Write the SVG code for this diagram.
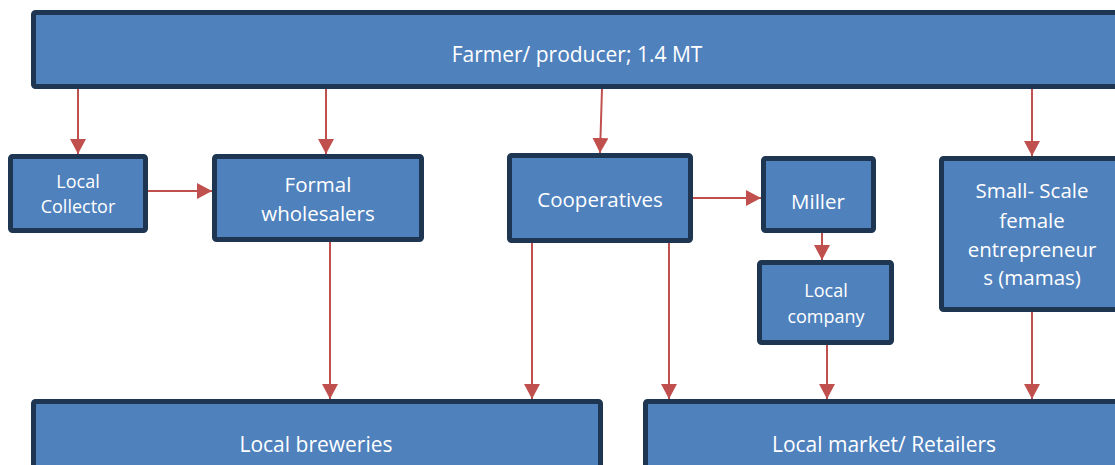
<svg xmlns="http://www.w3.org/2000/svg" width="1115" height="465" viewBox="0 0 1115 465">
<style>
.box{fill:#4F81BD;stroke:#1F3653;stroke-width:5}
.t{font-family:"Open Sans","Noto Sans",sans-serif;fill:#ffffff;text-anchor:middle;font-size:20.5px}
.s{font-size:18px}
.c{stroke:#C0504D;stroke-width:2;fill:none}
</style>
<defs>
<marker id="ah" markerUnits="userSpaceOnUse" markerWidth="15" markerHeight="16" refX="15" refY="8" orient="auto" viewBox="0 0 15 16">
<path d="M0,0 L15,8 L0,16 z" fill="#C0504D"/>
</marker>
</defs>
<rect width="1115" height="465" fill="#ffffff"/>
<g id="farmer"><rect class="box" x="33.5" y="12.5" width="1090" height="74" rx="2"/><text class="t" x="577" y="62" style="font-size:21px">Farmer/ producer; 1.4 MT</text></g>
<g id="local-collector"><rect class="box" x="10.5" y="156.5" width="135" height="74" rx="2"/><text class="t s" x="78" y="188">Local</text><text class="t s" x="78" y="213">Collector</text></g>
<g id="formal-wholesalers"><rect class="box" x="214.5" y="156.5" width="207" height="83" rx="2"/><text class="t" x="318" y="192">Formal</text><text class="t" x="318" y="221">wholesalers</text></g>
<g id="cooperatives"><rect class="box" x="509.5" y="155.5" width="181" height="85" rx="2"/><text class="t" x="600" y="207">Cooperatives</text></g>
<g id="miller"><rect class="box" x="763.5" y="158.5" width="110" height="72" rx="2"/><text class="t" x="818" y="209">Miller</text></g>
<g id="local-company"><rect class="box" x="759.5" y="262.5" width="132" height="80" rx="2"/><text class="t s" x="826" y="297">Local</text><text class="t s" x="826" y="323">company</text></g>
<g id="small-scale"><rect class="box" x="941.5" y="158.5" width="180" height="151" rx="2"/><text class="t" x="1032" y="198">Small- Scale</text><text class="t" x="1032" y="228">female</text><text class="t" x="1032" y="257">entrepreneur</text><text class="t" x="1032" y="285">s (mamas)</text></g>
<g id="local-breweries"><rect class="box" x="33.5" y="401.5" width="567" height="70" rx="2"/><text class="t" x="316" y="452" style="font-size:21px">Local breweries</text></g>
<g id="local-market"><rect class="box" x="645.5" y="401.5" width="480" height="70" rx="2"/><text class="t" x="884" y="452" style="font-size:21px">Local market/ Retailers</text></g>
<g id="connectors">
<line class="c" x1="78" y1="89" x2="78" y2="154" marker-end="url(#ah)"/>
<line class="c" x1="326" y1="89" x2="326" y2="154" marker-end="url(#ah)"/>
<line class="c" x1="602" y1="89" x2="600" y2="153" marker-end="url(#ah)"/>
<line class="c" x1="1032" y1="89" x2="1032" y2="156" marker-end="url(#ah)"/>
<line class="c" x1="148" y1="191" x2="212" y2="191" marker-end="url(#ah)"/>
<line class="c" x1="693" y1="198" x2="761" y2="198" marker-end="url(#ah)"/>
<line class="c" x1="822" y1="233" x2="822" y2="260" marker-end="url(#ah)"/>
<line class="c" x1="330" y1="242" x2="330" y2="399" marker-end="url(#ah)"/>
<line class="c" x1="532" y1="243" x2="532" y2="399" marker-end="url(#ah)"/>
<line class="c" x1="669" y1="243" x2="669" y2="399" marker-end="url(#ah)"/>
<line class="c" x1="827" y1="345" x2="827" y2="399" marker-end="url(#ah)"/>
<line class="c" x1="1032" y1="312" x2="1032" y2="399" marker-end="url(#ah)"/>
</g>
</svg>
